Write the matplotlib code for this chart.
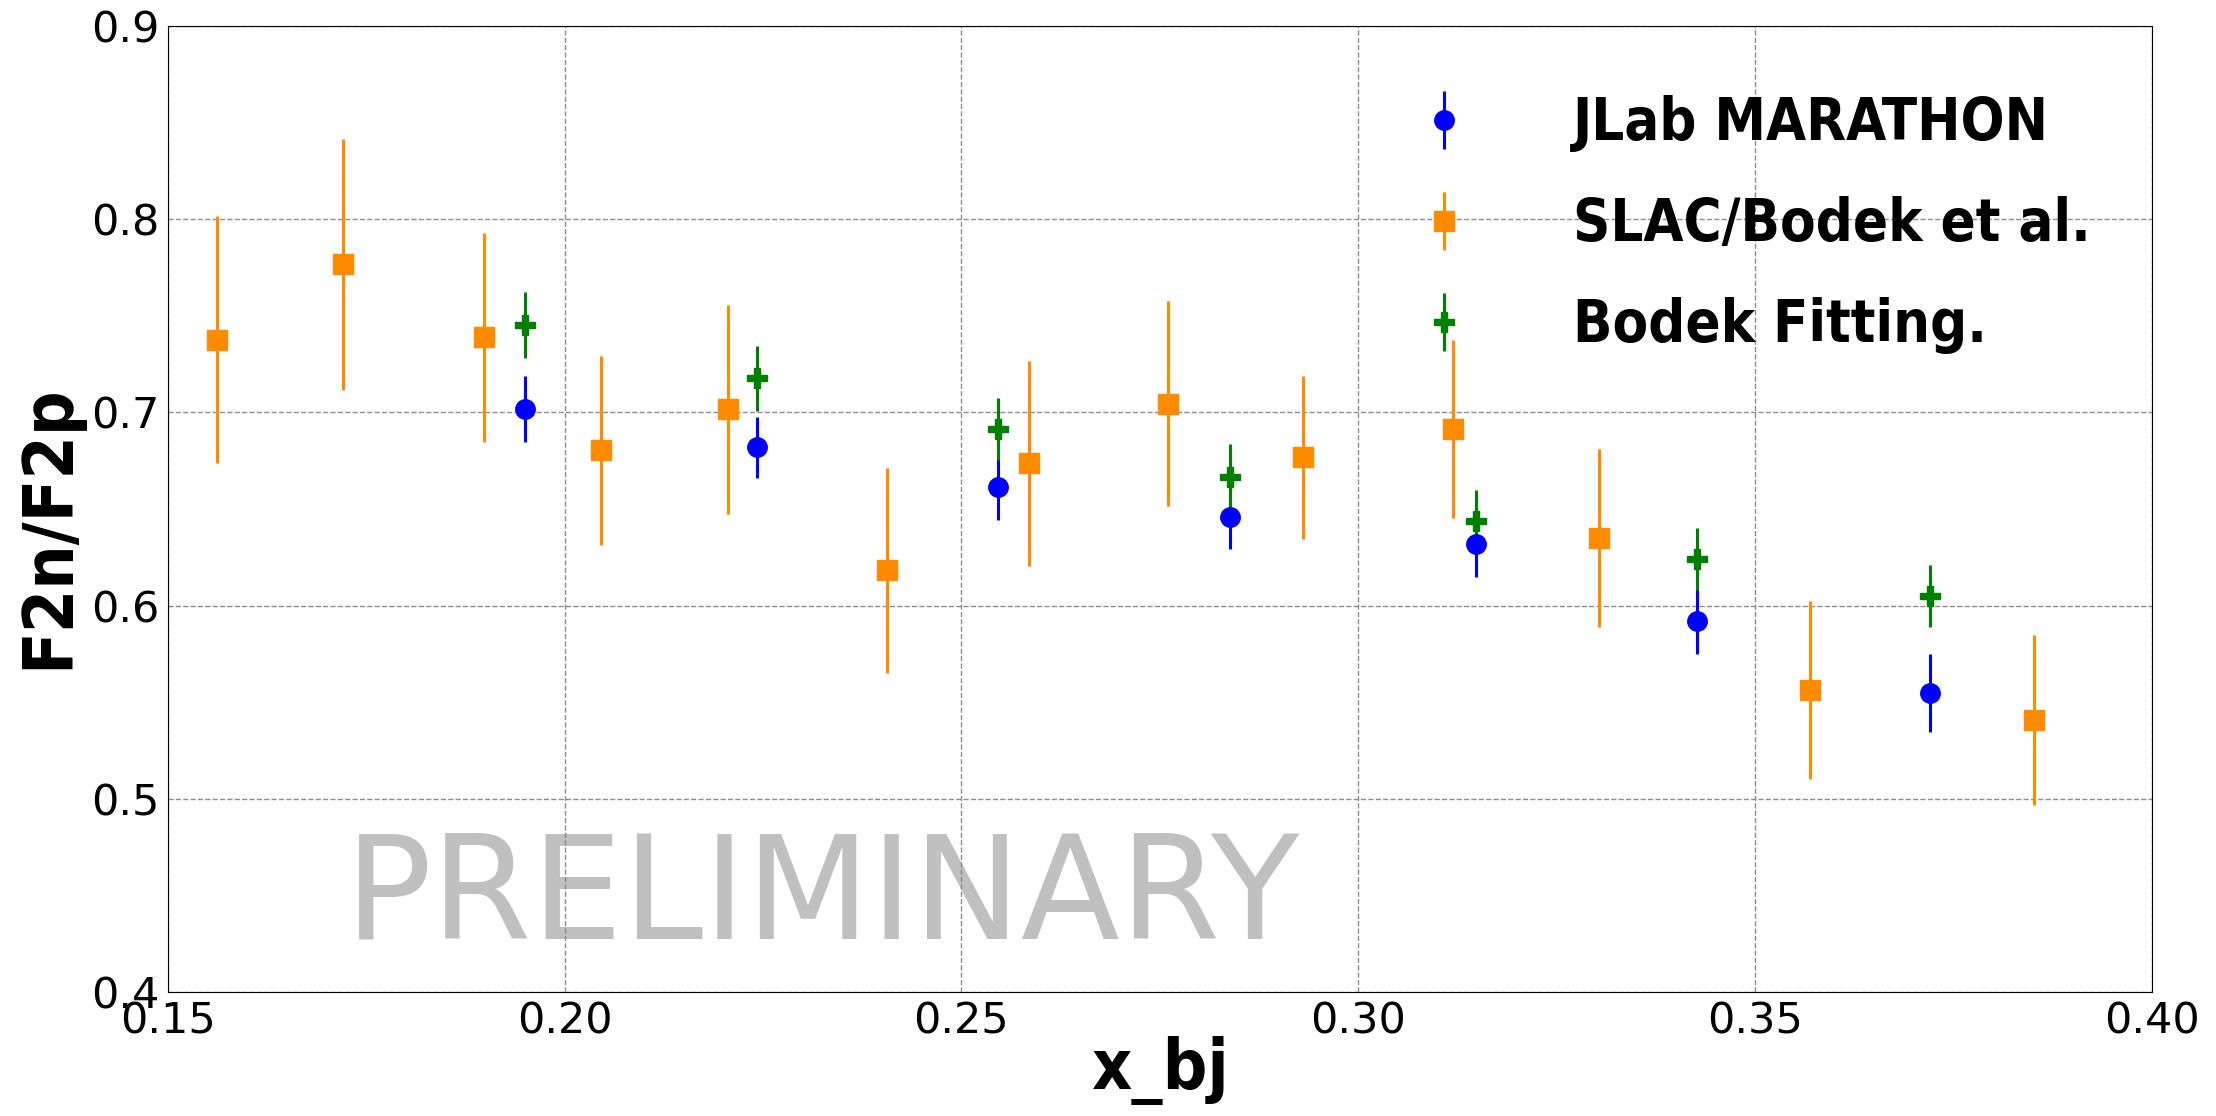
import matplotlib
matplotlib.use("Agg")
import matplotlib.pyplot as plt
from matplotlib import font_manager
from matplotlib.font_manager import FontProperties

# ---- data ----
jlab_x = [0.1950, 0.2243, 0.2546, 0.2838, 0.3148, 0.3427, 0.3721]
jlab_y = [0.7015, 0.6818, 0.6613, 0.6460, 0.6318, 0.5920, 0.5547]
jlab_err = [0.017, 0.016, 0.017, 0.017, 0.017, 0.017, 0.020]

slac_x = [0.1562, 0.1721, 0.1899, 0.2046, 0.2206, 0.2406, 0.2585,
          0.2760, 0.2931, 0.3119, 0.3304, 0.3569, 0.3852]
slac_y = [0.7375, 0.7766, 0.7387, 0.6803, 0.7015, 0.6182, 0.6737,
          0.7044, 0.6766, 0.6912, 0.6350, 0.5562, 0.5409]
slac_err = [0.064, 0.065, 0.054, 0.049, 0.054, 0.053, 0.053,
            0.053, 0.042, 0.046, 0.046, 0.046, 0.044]

fit_x = [0.1950, 0.2243, 0.2546, 0.2838, 0.3148, 0.3427, 0.3721]
fit_y = [0.7453, 0.7175, 0.6912, 0.6664, 0.6438, 0.6241, 0.6051]
fit_err = [0.017, 0.017, 0.016, 0.017, 0.016, 0.016, 0.016]

labels = ["JLab MARATHON", "SLAC/Bodek et al.", "Bodek Fitting."]
xticks = [0.15, 0.20, 0.25, 0.30, 0.35, 0.40]
yticks = [0.4, 0.5, 0.6, 0.7, 0.8, 0.9]

# ---- pick a condensed bold font if one is installed ----
STRETCH = {'ultra-condensed': 1, 'extra-condensed': 2, 'condensed': 3,
           'semi-condensed': 4, 'normal': 5}
WEIGHTS_BOLD = {'bold', 'heavy', 'black', 'extra bold', 'ultrabold', 'demibold'}


def stretch_val(s):
    if isinstance(s, (int, float)):
        return s / 100.0
    return STRETCH.get(str(s).lower(), 5)


def is_bold(w):
    if isinstance(w, (int, float)):
        return w >= 600
    return str(w).lower() in WEIGHTS_BOLD


best = None
for f in font_manager.fontManager.ttflist:
    nm = f.name.lower()
    if 'cjk' in nm or 'mono' in nm or ('serif' in nm and 'sans' not in nm):
        continue
    sv = stretch_val(f.stretch)
    if 'condensed' in nm or 'narrow' in nm:
        sv = min(sv, 3)
    if sv < 5 and is_bold(f.weight):
        if best is None or sv < best[0]:
            best = (sv, f.fname)

if best is not None:
    def cprop(size):
        return FontProperties(fname=best[1], size=size)
    lab_size, leg_size = 50, 41.5
else:
    def cprop(size):
        return FontProperties(family='DejaVu Sans', weight='bold', size=size)
    lab_size, leg_size = 44, 38

fig = plt.figure(figsize=(22.16, 11.16), dpi=100)
ax = fig.add_axes([0.0757, 0.111, 0.8953, 0.866])

ax.errorbar(jlab_x, jlab_y, yerr=jlab_err, fmt='o', color='blue',
            markersize=14, elinewidth=2.2, label=labels[0], zorder=3)
ax.errorbar(slac_x, slac_y, yerr=slac_err, fmt='s', color='darkorange',
            markersize=15, elinewidth=2.2, label=labels[1], zorder=3)
ax.errorbar(fit_x, fit_y, yerr=fit_err, fmt='P', color='green',
            markersize=14, elinewidth=2.2, label=labels[2], zorder=3)

ax.set_xlim(0.15, 0.40)
ax.set_ylim(0.4, 0.9)
ax.set_xticks(xticks)
ax.set_xticklabels([f"{v:.2f}" for v in xticks])
ax.set_yticks(yticks)
ax.set_yticklabels([f"{v:.1f}" for v in yticks])
ax.tick_params(axis='both', length=0, pad=6, labelsize=31)
ax.grid(True, linestyle='--', color='gray', linewidth=1.0, alpha=0.9)

ax.text(0.2325, 0.4277, "PRELIMINARY", fontsize=104, color='silver',
        ha='center', va='baseline', zorder=0)

ax.set_xlabel("x_bj", fontproperties=cprop(lab_size))
ax.set_ylabel("F2n/F2p", fontproperties=cprop(lab_size))
ax.xaxis.set_label_coords(0.5, -0.045)
ax.yaxis.set_label_coords(-0.043, 0.482)

ax.legend(loc='upper left', bbox_to_anchor=(0.614, 0.928), frameon=False,
          prop=cprop(leg_size), handletextpad=1.24, labelspacing=0.76,
          handlelength=2.0, borderaxespad=0.0, borderpad=0.0)

fig.savefig("out.png", dpi=100)
